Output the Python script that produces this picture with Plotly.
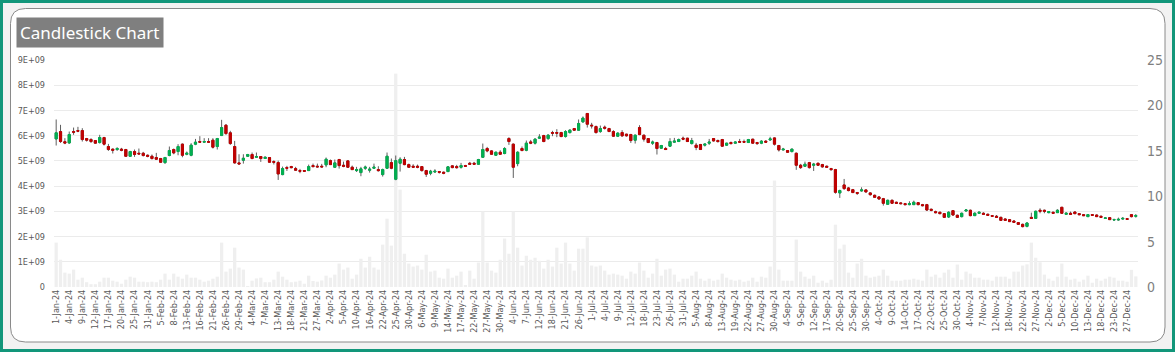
import pandas as pd
import plotly.graph_objects as go

# ---------------- data ----------------
holidays = ["2024-01-22", "2024-01-26", "2024-03-08", "2024-03-25", "2024-03-29",
            "2024-04-11", "2024-04-17", "2024-05-01", "2024-05-20", "2024-06-17",
            "2024-07-17", "2024-08-15", "2024-10-02", "2024-11-15", "2024-11-20",
            "2024-12-25"]
special_sessions = ["2024-01-20", "2024-03-02", "2024-05-18"]

days = pd.bdate_range("2024-01-01", "2024-12-31")
days = days[~days.isin(pd.to_datetime(holidays))].union(pd.to_datetime(special_sessions))
categories = [f"{d.day}-{d.strftime('%b-%y')}" for d in days]

open_ = [16.31, 17.12, 16.0, 15.87, 17.12, 17.23, 17.23, 16.35, 16.24, 16.13,
         15.91, 16.46, 15.47, 15.18, 15.14, 15.18, 15.14, 14.4, 14.92, 14.73,
         14.73, 14.51, 14.4, 14.26, 14.15, 13.7, 14.48, 15.14, 14.92, 15.73,
         14.62, 14.51, 15.73, 16.02, 15.95, 16.02, 16.17, 15.47, 16.68, 17.82,
         16.98, 15.47, 13.67, 13.96, 14.4, 14.59, 14.29, 14.37, 14.15, 14.26,
         13.81, 13.7, 12.38, 13.15, 13.26, 13.04, 12.82, 12.82, 12.82, 13.37,
         13.3, 13.3, 13.45, 13.92, 13.19, 14.04, 13.41, 13.89, 13.19, 12.82,
         12.6, 13.08, 12.86, 13.08, 12.93, 12.38, 13.08, 13.7, 11.87, 13.63,
         14.04, 13.48, 13.3, 13.3, 13.26, 12.82, 12.53, 12.67, 12.71, 12.64,
         12.71, 13.34, 13.26, 13.19, 13.37, 13.63, 13.63, 13.52, 14.29, 15.25,
         14.99, 14.51, 14.84, 14.7, 16.35, 15.73, 13.59, 15.25, 15.06, 15.98,
         15.84, 16.39, 16.68, 16.35, 17.01, 17.01, 17.01, 16.57, 17.01, 17.45,
         17.27, 18.19, 19.11, 17.82, 17.67, 17.12, 17.6, 17.45, 17.12, 16.61,
         17.01, 16.83, 16.79, 16.17, 17.56, 16.72, 16.35, 15.84, 15.91, 15.29,
         15.25, 15.51, 15.95, 16.02, 16.39, 16.39, 15.8, 15.62, 15.69, 15.62,
         15.84, 16.35, 16.13, 16.24, 15.62, 15.91, 15.84, 16.02, 16.02, 15.91,
         16.28, 15.91, 15.84, 16.06, 16.2, 16.42, 15.58, 15.1, 15.03, 14.92,
         14.73, 13.41, 13.3, 13.7, 13.41, 13.63, 13.48, 13.3, 13.04, 12.93,
         10.36, 11.24, 10.91, 10.72, 10.4, 10.58, 10.69, 10.36, 10.1, 9.92,
         9.73, 9.11, 9.55, 9.33, 9.26, 9.18, 9.07, 9.07, 9.29, 9.07,
         9.07, 8.56, 8.3, 8.23, 8.08, 7.71, 8.41, 7.9, 7.75, 8.37,
         8.45, 7.86, 8.12, 8.12, 8.01, 7.86, 7.79, 7.67, 7.49, 7.42,
         7.27, 7.09, 6.9, 6.68, 7.67, 7.56, 8.45, 8.45, 8.19, 8.23,
         8.19, 8.78, 8.01, 8.12, 8.26, 8.08, 7.97, 7.75, 7.97, 7.93,
         7.79, 7.56, 7.64, 7.38, 7.38, 7.49, 7.53, 7.97, 7.79]
high = [18.45, 17.86, 16.39, 17.12, 17.56, 17.64, 17.49, 16.42, 16.39, 16.17,
        16.76, 16.54, 15.76, 15.25, 15.4, 15.32, 15.21, 15.0, 15.14, 15.25,
        14.88, 14.59, 14.59, 14.77, 14.22, 14.33, 15.47, 15.25, 15.73, 15.8,
        14.92, 15.84, 16.31, 16.61, 16.39, 16.39, 16.39, 16.42, 18.41, 17.93,
        17.2, 16.09, 14.62, 14.62, 14.66, 14.81, 14.81, 14.4, 14.4, 14.29,
        13.96, 13.92, 13.26, 13.34, 13.34, 13.23, 13.01, 12.86, 13.48, 13.59,
        13.59, 13.56, 14.26, 14.04, 14.04, 14.11, 13.81, 13.96, 13.37, 13.23,
        13.23, 13.37, 13.23, 13.59, 13.3, 13.04, 14.81, 14.15, 14.48, 14.29,
        14.33, 13.59, 13.52, 13.48, 13.3, 12.9, 12.9, 12.97, 12.78, 12.71,
        13.3, 13.37, 13.45, 13.67, 13.45, 13.78, 13.78, 14.11, 15.8, 15.43,
        15.06, 14.92, 15.06, 15.4, 16.5, 15.8, 14.95, 15.47, 16.13, 16.2,
        16.39, 16.83, 16.76, 16.83, 17.2, 17.38, 17.09, 17.27, 17.38, 17.49,
        18.45, 18.78, 19.15, 18.08, 17.78, 17.78, 17.78, 17.53, 17.27, 17.05,
        17.27, 16.87, 16.87, 16.79, 17.82, 16.76, 16.39, 16.13, 15.98, 15.65,
        15.43, 16.39, 16.42, 16.35, 16.57, 16.42, 16.42, 15.87, 15.76, 15.8,
        16.31, 16.39, 16.24, 16.31, 15.87, 16.02, 16.06, 16.31, 16.24, 16.31,
        16.31, 15.98, 16.17, 16.17, 16.54, 16.46, 15.65, 15.32, 15.06, 15.25,
        14.81, 13.56, 13.81, 13.78, 13.67, 13.67, 13.56, 13.37, 13.12, 13.01,
        10.72, 11.9, 11.02, 10.8, 10.47, 10.98, 10.72, 10.43, 10.17, 9.99,
        9.81, 9.62, 9.62, 9.4, 9.33, 9.26, 9.44, 9.51, 9.33, 9.15,
        9.15, 8.63, 8.41, 8.3, 8.15, 8.34, 8.48, 7.97, 8.19, 8.59,
        8.52, 8.23, 8.3, 8.23, 8.08, 7.93, 7.93, 7.75, 7.56, 7.49,
        7.34, 7.16, 6.98, 7.12, 8.19, 8.41, 8.67, 8.52, 8.37, 8.3,
        8.56, 8.81, 8.23, 8.3, 8.34, 8.15, 8.04, 8.04, 8.04, 7.97,
        7.86, 7.71, 7.71, 7.53, 7.64, 7.71, 7.6, 8.04, 8.04]
low = [15.58, 15.87, 15.73, 15.76, 16.76, 17.05, 16.02, 16.02, 15.87, 15.8,
       15.8, 15.58, 14.99, 14.7, 14.99, 14.95, 14.33, 14.33, 14.33, 14.55,
       14.37, 14.29, 14.04, 14.0, 13.7, 13.56, 14.4, 14.62, 14.51, 14.29,
       14.51, 14.4, 15.62, 15.91, 15.91, 15.91, 15.25, 15.14, 16.64, 16.76,
       15.65, 13.59, 13.49, 13.59, 14.37, 14.07, 14.22, 13.78, 14.11, 13.7,
       13.49, 11.79, 12.31, 12.78, 13.08, 12.78, 12.53, 12.71, 12.78, 13.23,
       13.15, 13.15, 13.19, 13.45, 13.12, 13.04, 13.19, 13.12, 12.9, 12.67,
       12.2, 12.9, 12.6, 13.01, 12.71, 12.16, 13.01, 12.97, 11.76, 12.71,
       13.41, 13.15, 13.15, 13.08, 12.71, 12.12, 12.31, 12.56, 12.49, 12.42,
       12.67, 13.08, 13.04, 13.04, 13.26, 13.45, 13.48, 13.45, 14.22, 14.84,
       14.59, 14.44, 14.59, 14.62, 15.65, 12.01, 13.3, 14.95, 14.95, 15.73,
       15.69, 16.31, 15.95, 16.2, 16.61, 16.5, 16.5, 16.46, 16.9, 17.2,
       17.23, 18.08, 17.56, 17.45, 16.9, 16.98, 17.34, 17.09, 16.54, 16.54,
       16.54, 16.57, 15.87, 15.8, 16.72, 16.02, 15.87, 15.65, 14.59, 15.25,
       15.1, 15.43, 15.91, 15.98, 16.17, 15.98, 15.69, 15.07, 15.1, 15.47,
       15.65, 16.02, 15.91, 15.43, 15.54, 15.69, 15.76, 15.91, 15.91, 15.87,
       15.8, 15.65, 15.73, 15.87, 16.09, 15.58, 14.92, 15.03, 14.81, 14.81,
       12.9, 13.01, 13.23, 13.04, 12.78, 13.34, 13.15, 13.12, 12.82, 10.28,
       9.81, 10.69, 10.54, 10.36, 10.14, 10.51, 10.4, 10.06, 9.84, 9.59,
       8.96, 9.04, 9.15, 9.15, 9.11, 9.04, 9.0, 9.04, 9.0, 8.89,
       8.37, 8.34, 8.12, 8.01, 7.6, 7.6, 7.86, 7.6, 7.67, 8.34,
       7.79, 7.82, 8.04, 7.93, 7.86, 7.71, 7.6, 7.27, 7.27, 7.16,
       7.05, 6.83, 6.57, 6.57, 7.49, 7.49, 8.12, 8.12, 8.12, 8.04,
       8.15, 8.04, 7.93, 7.93, 8.01, 7.9, 7.82, 7.71, 7.82, 7.71,
       7.6, 7.53, 7.38, 7.31, 7.31, 7.42, 7.42, 7.67, 7.64]
close = [16.98, 16.02, 15.85, 16.79, 17.05, 17.16, 16.24, 16.17, 16.02, 15.84,
         16.46, 15.73, 15.14, 15.06, 15.25, 15.06, 14.4, 14.92, 14.59, 14.66,
         14.48, 14.4, 14.15, 14.07, 13.74, 14.26, 15.03, 14.77, 15.47, 14.51,
         14.73, 15.62, 15.95, 15.95, 16.02, 15.95, 15.4, 16.35, 17.56, 16.9,
         15.8, 13.67, 13.56, 14.18, 14.59, 14.15, 14.37, 14.15, 14.29, 13.74,
         13.74, 12.45, 13.04, 13.08, 13.15, 12.86, 12.75, 12.75, 13.26, 13.26,
         13.23, 13.23, 14.07, 13.48, 13.67, 13.37, 13.3, 13.19, 12.93, 12.93,
         13.01, 13.19, 12.97, 13.19, 12.82, 12.93, 14.4, 13.08, 13.92, 14.07,
         13.48, 13.19, 13.19, 13.19, 12.82, 12.42, 12.75, 12.75, 12.64, 12.53,
         13.23, 13.15, 13.15, 13.37, 13.3, 13.52, 13.52, 14.04, 15.14, 14.99,
         14.62, 14.84, 14.62, 15.25, 16.02, 13.19, 14.84, 15.03, 15.84, 15.84,
         16.28, 16.5, 16.02, 16.72, 16.94, 16.94, 16.57, 17.12, 17.27, 17.27,
         18.01, 18.6, 17.93, 17.75, 17.01, 17.45, 17.49, 17.12, 16.61, 16.94,
         16.65, 16.65, 16.13, 16.72, 16.79, 16.28, 15.91, 15.95, 15.25, 15.58,
         15.14, 16.02, 16.06, 16.24, 16.28, 16.02, 16.13, 15.36, 15.14, 15.73,
         15.95, 16.09, 16.02, 15.51, 15.84, 15.8, 15.95, 15.95, 15.95, 16.24,
         15.84, 15.8, 16.06, 15.95, 16.31, 15.73, 15.1, 15.18, 14.84, 15.18,
         13.41, 13.15, 13.52, 13.15, 13.52, 13.41, 13.23, 13.19, 12.93, 10.43,
         10.62, 10.84, 10.62, 10.4, 10.32, 10.69, 10.47, 10.17, 9.88, 9.7,
         9.22, 9.55, 9.22, 9.22, 9.18, 9.07, 9.18, 9.33, 9.07, 8.96,
         8.48, 8.45, 8.19, 8.08, 7.67, 8.23, 7.93, 7.67, 8.12, 8.48,
         7.86, 8.12, 8.23, 8.01, 7.9, 7.79, 7.67, 7.34, 7.34, 7.2,
         7.12, 6.9, 6.65, 7.05, 7.56, 8.34, 8.34, 8.34, 8.3, 8.12,
         8.45, 8.12, 8.12, 8.01, 8.08, 7.97, 7.86, 7.97, 7.9, 7.75,
         7.67, 7.6, 7.42, 7.42, 7.45, 7.56, 7.45, 7.75, 7.86]
volume_e9 = [1.76, 1.08, 0.57, 0.53, 0.69, 0.29, 0.37, 0.19, 0.11, 0.11,
             0.21, 0.37, 0.37, 0.25, 0.21, 0.13, 0.29, 0.41, 0.37, 0.21,
             0.21, 0.19, 0.21, 0.19, 0.29, 0.53, 0.29, 0.53, 0.41, 0.33,
             0.49, 0.37, 0.37, 0.29, 0.21, 0.25, 0.33, 0.41, 1.76, 0.61,
             0.73, 1.56, 0.77, 0.69, 0.02, 0.25, 0.34, 0.37, 0.19, 0.19,
             0.29, 0.61, 0.41, 0.29, 0.19, 0.21, 0.25, 0.13, 0.45, 0.24,
             0.21, 0.26, 0.45, 0.37, 0.49, 0.93, 0.69, 0.77, 0.33, 0.49,
             1.12, 0.77, 1.2, 0.77, 0.69, 1.68, 2.71, 1.64, 8.46, 3.86,
             1.32, 0.93, 0.81, 0.85, 0.69, 1.28, 0.61, 0.65, 0.37, 0.33,
             0.73, 0.37, 0.45, 0.61, 0.05, 0.65, 0.33, 0.97, 2.99, 0.97,
             0.65, 0.57, 1.08, 1.92, 1.32, 2.99, 1.56, 0.85, 1.24, 1.08,
             1.16, 1.04, 0.73, 1.08, 0.81, 1.56, 0.93, 1.76, 0.93, 0.65,
             1.52, 1.52, 1.97, 0.85, 0.81, 0.85, 0.65, 0.49, 0.53, 0.49,
             0.45, 0.33, 0.61, 0.53, 0.97, 0.65, 0.37, 0.53, 1.12, 0.45,
             0.69, 0.73, 0.49, 0.21, 0.33, 0.33, 0.45, 0.61, 0.33, 0.25,
             0.33, 0.25, 0.29, 0.53, 0.37, 0.29, 0.25, 0.29, 0.21, 0.25,
             0.37, 0.21, 0.41, 0.37, 0.81, 4.22, 0.69, 0.25, 0.25, 0.25,
             1.88, 0.61, 0.41, 0.33, 0.45, 0.17, 0.25, 0.17, 0.29, 2.47,
             1.52, 1.68, 0.57, 0.37, 0.93, 1.12, 0.45, 0.37, 0.41, 0.45,
             0.69, 0.45, 0.25, 0.25, 0.25, 0.29, 0.29, 0.33, 0.29, 0.25,
             0.69, 0.41, 0.49, 0.37, 0.57, 0.69, 0.37, 0.89, 0.29, 0.61,
             0.53, 0.37, 0.37, 0.29, 0.29, 0.25, 0.41, 0.41, 0.41, 0.33,
             0.61, 0.61, 0.85, 0.9, 1.76, 1.16, 0.98, 0.49, 0.33, 0.25,
             0.41, 0.93, 0.41, 0.29, 0.33, 0.21, 0.29, 0.45, 0.17, 0.33,
             0.25, 0.33, 0.41, 0.37, 0.25, 0.25, 0.21, 0.68, 0.42]

volume = [v * 1e9 for v in volume_e9]
body_high = [max(o, c) for o, c in zip(open_, close)]
body_low = [min(o, c) for o, c in zip(open_, close)]

vol_tickvals = [i * 1e9 for i in range(10)]
vol_ticktext = ["0"] + [f"{i}E+09" for i in range(1, 10)]
x_ticks = categories[::3]

# ---------------- layout helpers ----------------
W, H = 1175, 352
ML, MR, MT, MB = 54, 37, 60, 65
PW, PH = W - ML - MR, H - MT - MB


def px(x):
    return (x - ML) / PW


def py(y):
    return (H - MB - y) / PH


def rounded(x0, y0, x1, y1, r):
    X0, X1, Yt, Yb = px(x0), px(x1), py(y0), py(y1)
    rx, ry = r / PW, r / PH
    return (f"M {X0+rx},{Yt} L {X1-rx},{Yt} Q {X1},{Yt} {X1},{Yt-ry} "
            f"L {X1},{Yb+ry} Q {X1},{Yb} {X1-rx},{Yb} L {X0+rx},{Yb} "
            f"Q {X0},{Yb} {X0},{Yb+ry} L {X0},{Yt-ry} Q {X0},{Yt} {X0+rx},{Yt} Z")


FONT = "Liberation Sans Narrow, DejaVu Sans Condensed, Roboto, sans-serif"

fig = go.Figure()
fig.add_trace(go.Bar(x=categories, y=volume, marker=dict(color="#efefef", line=dict(width=0)),
                     yaxis="y", hoverinfo="skip", name="Volume"))
fig.add_trace(go.Candlestick(x=categories, open=open_, high=high, low=low, close=close,
                             yaxis="y2", name="wick", hoverinfo="skip",
                             increasing=dict(line=dict(color="#5f5f5f", width=1), fillcolor="#5f5f5f"),
                             decreasing=dict(line=dict(color="#5f5f5f", width=1), fillcolor="#5f5f5f")))
fig.add_trace(go.Candlestick(x=categories, open=open_, high=body_high, low=body_low, close=close,
                             yaxis="y2", name="Price",
                             increasing=dict(line=dict(color="#00b050", width=1), fillcolor="#00b050"),
                             decreasing=dict(line=dict(color="#c00000", width=1), fillcolor="#c00000")))

fig.update_layout(
    width=W, height=H,
    margin=dict(l=ML, r=MR, t=MT, b=MB),
    paper_bgcolor="#f2f2f2",
    plot_bgcolor="rgba(0,0,0,0)",
    showlegend=False,
    bargap=0.25,
    boxmode="overlay",
    xaxis=dict(type="category", range=[-0.5, len(categories) - 0.5],
               tickmode="array", tickvals=x_ticks, ticktext=x_ticks,
               tickangle=-90, tickfont=dict(family=FONT, size=9, color="#595959"),
               showgrid=False, zeroline=False, showline=False, ticks="",
               rangeslider=dict(visible=False), fixedrange=True),
    yaxis=dict(range=[0, 9e9], tickmode="array", tickvals=vol_tickvals, ticktext=vol_ticktext,
               tickfont=dict(family=FONT, size=9, color="#595959"),
               gridcolor="#ebebeb", gridwidth=1, zeroline=False, showline=False,
               ticklabelstandoff=8),
    yaxis2=dict(range=[0, 25], dtick=5, overlaying="y", side="right", showgrid=False,
                zeroline=False, showline=False,
                tickfont=dict(family=FONT, size=14, color="#7f7f7f"),
                ticklabelstandoff=8),
    shapes=[
        dict(type="rect", xref="paper", yref="paper", layer="below",
             x0=px(1.5), x1=px(W - 1.5), y0=py(H - 1.5), y1=py(1.5),
             line=dict(color="#12967a", width=3), fillcolor="rgba(0,0,0,0)"),
        dict(type="path", xref="paper", yref="paper", layer="below",
             path=rounded(10.5, 8.5, 1165, 342, 15),
             line=dict(color="#8a8a8a", width=1), fillcolor="#ffffff"),
    ],
    annotations=[
        dict(text="Candlestick Chart", xref="paper", yref="paper",
             x=px(16), y=py(16.5), xanchor="left", yanchor="top", showarrow=False,
             font=dict(family="Noto Sans, DejaVu Sans, sans-serif", size=17, color="#ffffff"),
             bgcolor="#7f7f7f", borderpad=3),
    ],
)

fig.write_html("out.html")
